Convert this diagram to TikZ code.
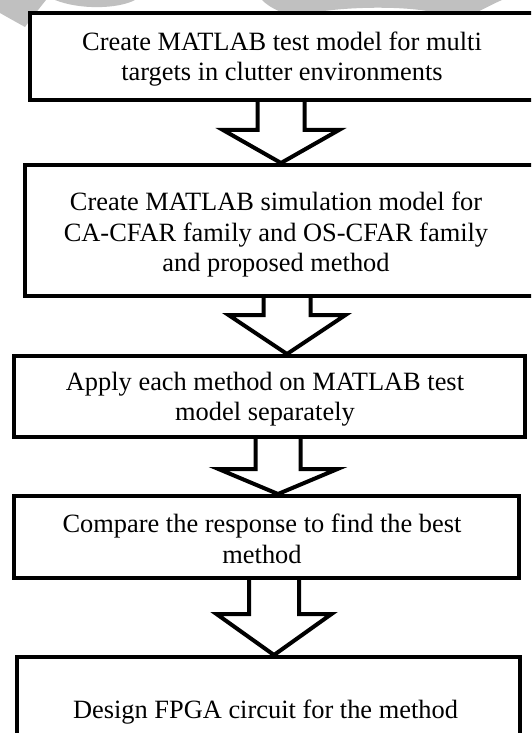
\documentclass[tikz,border=0pt]{standalone}
\usepackage{fontspec}
\setmainfont{Liberation Serif}
\usetikzlibrary{calc,backgrounds}
\definecolor{wmgray}{RGB}{192,192,192}
\tikzset{
  boxshape/.style={draw=black,line width=4pt,fill=white,inner sep=0pt,rectangle},
  boxtext/.style={font=\fontsize{26.4}{30.5}\selectfont,align=center,inner sep=0pt},
  blockarr/.style={draw=black,line width=4pt,fill=white,line join=miter,miter limit=10},
  wm/.style={fill=wmgray}
}
\newcommand{\blockarrow}[5]{%
  \draw[blockarr] ($(#1.south -| #3)+(-#4pt,0pt)$) -- ($(#3)+(-#4pt,0pt)$) -- ($(#3)+(-#5pt,0pt)$) -- (#2.north -| #3) -- ($(#3)+(#5pt,0pt)$) -- ($(#3)+(#4pt,0pt)$) -- ($(#1.south -| #3)+(#4pt,0pt)$);}
\begin{document}
\begin{tikzpicture}[x=1pt,y=-1pt]
\useasboundingbox (0,0) rectangle (531,733);
\clip (0,0) rectangle (531,733);
% boxes
\node[boxshape,minimum width=515pt,minimum height=87pt] (b1) at (287.5,56.5) {};
\node[boxshape,minimum width=520pt,minimum height=131pt] (b2) at (285,230.5) {};
\node[boxshape,minimum width=511pt,minimum height=81pt] (b3) at (269.5,396.5) {};
\node[boxshape,minimum width=505pt,minimum height=82pt] (b4) at (266.5,537) {};
\node[boxshape,minimum width=503pt,minimum height=100pt] (b5) at (268.5,707) {};
% texts
\node[boxtext] (t1) at (282,59) {Create MATLAB test model for multi\\targets in clutter environments};
\node[boxtext] (t2) at (276,235) {Create MATLAB simulation model for\\CA-CFAR family and OS-CFAR family\\and proposed method};
\node[boxtext] (t3) at (265,399) {Apply each method on MATLAB test\\model separately};
\node[boxtext] (t4) at (262,539) {Compare the response to find the best\\method};
\node[boxtext] (t5) at (265.5,712) {Design FPGA circuit for the method};
% arrow head centres
\coordinate (h1) at (281,130);
\coordinate (h2) at (287,315);
\coordinate (h3) at (278,469);
\coordinate (h4) at (274,614);
\begin{scope}[on background layer]
  % watermark
  \fill[wm] (0,0) -- (46,0) .. controls (38,10) and (31,19) .. (25,27) .. controls (16,22) and (7,17) .. (0,13) -- cycle;
  \fill[wm] (55,0) -- (135,0) .. controls (118,9) and (80,10) .. (55,0) -- cycle;
  \fill[wm] (262,0) .. controls (270,8) and (280,12) .. (292,16) -- (300,16) .. controls (330,6) and (420,4) .. (445,16) -- (470,16) .. controls (485,8) and (495,3) .. (502,0) -- cycle;
  % block arrows
  \blockarrow{b1}{b2}{h1}{23.5}{58}
  \blockarrow{b2}{b3}{h2}{23.5}{58.5}
  \blockarrow{b3}{b4}{h3}{22.5}{59.5}
  \blockarrow{b4}{b5}{h4}{25}{57.5}
\end{scope}
\end{tikzpicture}
\end{document}
